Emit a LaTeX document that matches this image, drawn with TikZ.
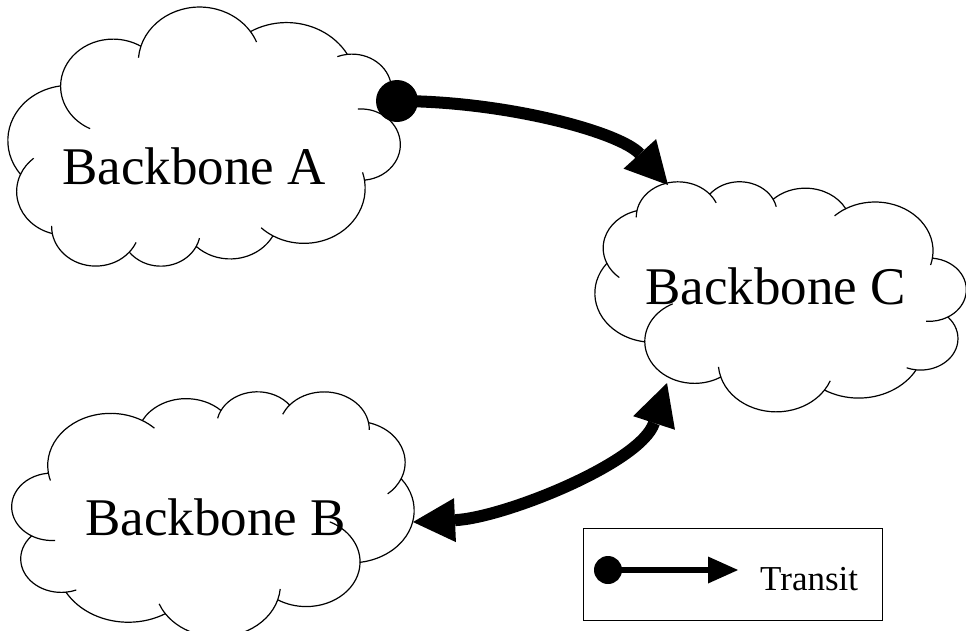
\documentclass[tikz,border=0pt]{standalone}
\usepackage{fontspec}
\setmainfont{Liberation Serif}
\usetikzlibrary{arrows.meta}

\newcommand{\cloudoutline}{%
  \draw[cloudline] (9.028,33.264)
    arc[start angle=172.255, delta angle=128.12, x radius=15.632, y radius=21.273]
    arc[start angle=-152.02, delta angle=106.57, x radius=12.345, y radius=16.822]
    arc[start angle=-153.49, delta angle=116.17, x radius=10.104, y radius=13.762]
    arc[start angle=-139.70, delta angle=129.49, x radius=11.243, y radius=15.266]
    arc[start angle=-74.77, delta angle=97.98, x radius=12.345, y radius=16.836]
    arc[start angle=-37.52, delta angle=119.38, x radius=15.683, y radius=21.343]
    arc[start angle=0.46, delta angle=121.52, x radius=13.391, y radius=18.211]
    arc[start angle=16.85, delta angle=129.40, x radius=15.630, y radius=21.331]
    arc[start angle=58.98, delta angle=91.22, x radius=17.870, y radius=24.405]
    arc[start angle=83.31, delta angle=139.82, x radius=10.093, y radius=13.699]
    arc[start angle=120.34, delta angle=143.77, x radius=10.058, y radius=13.762]
    -- cycle;
  \draw[cloudline] (9.963,47.259) ++(85.54:10.058 and 13.762)
    arc[start angle=85.54, end angle=120.34, x radius=10.058, y radius=13.762];
  \draw[cloudline] (12.248,68.502) ++(68.24:10.093 and 13.699)
    arc[start angle=68.24, end angle=83.31, x radius=10.093, y radius=13.699];
  \draw[cloudline] (51.139,79.039) ++(146.25:15.630 and 21.331)
    arc[start angle=146.25, end angle=158.47, x radius=15.630, y radius=21.331];
  \draw[cloudline] (51.139,79.039) ++(4.74:15.630 and 21.331)
    arc[start angle=4.74, end angle=16.85, x radius=15.630, y radius=21.331];
  \draw[cloudline] (73.190,69.775) ++(-64.03:13.391 and 18.211)
    arc[start angle=-64.03, end angle=0.46, x radius=13.391, y radius=18.211];
  \draw[cloudline] (85.454,29.160) ++(23.21:12.345 and 16.836)
    arc[start angle=23.21, end angle=49.64, x radius=12.345, y radius=16.836];
  \draw[cloudline] (77.632,15.620) ++(-10.21:11.243 and 15.266)
    arc[start angle=-10.21, end angle=0.82, x radius=11.243, y radius=15.266];
  \draw[cloudline] (77.632,15.620) ++(-156.28:11.243 and 15.266)
    arc[start angle=-156.28, end angle=-139.70, x radius=11.243, y radius=15.266];
  \draw[cloudline] (61.023,14.088) ++(-167.72:10.104 and 13.762)
    arc[start angle=-167.72, end angle=-153.49, x radius=10.104, y radius=13.762];
  \draw[cloudline] (24.516,30.398) ++(-59.63:15.632 and 21.273)
    arc[start angle=-59.63, end angle=-45.76, x radius=15.632, y radius=21.273];
  \draw[cloudline] (24.516,30.398) ++(163.19:15.632 and 21.273)
    arc[start angle=163.19, end angle=172.26, x radius=15.632, y radius=21.273];
}

\begin{document}
\begin{tikzpicture}[x=1pt,y=-1pt,
  cloudline/.style={line width=1.2pt, line join=round},
  cloudlabel/.style={anchor=base west, inner sep=0pt, font=\fontsize{53}{60}\selectfont},
  bigline/.style={line width=12pt},
  bighead/.tip={Triangle[length=42pt,width=44pt,line width=0pt]},
  smallhead/.tip={Triangle[length=30pt,width=27pt,line width=0pt]},
  legendbox/.style={draw, line width=1.2pt, anchor=north west, inner sep=0pt,
    minimum width=299pt, minimum height=92pt}]
\useasboundingbox (0,0) rectangle (966,630);

% Cloud A (rotated by 180 degrees)
\begin{scope}[shift={(400,267)}, xscale=-3.92, yscale=-2.59]
  \cloudoutline
\end{scope}
% Cloud B
\begin{scope}[shift={(12,391)}, xscale=4.02, yscale=2.45]
  \cloudoutline
\end{scope}
% Cloud C (mirrored)
\begin{scope}[shift={(966,181)}, xscale=-3.71, yscale=2.30]
  \cloudoutline
\end{scope}

\node[cloudlabel] (A) at (62,184) {Backbone A};
\node[cloudlabel] (B) at (85,535) {Backbone B};
\node[cloudlabel] (C) at (645,304) {Backbone C};

\coordinate (Adot) at (397,101);
\coordinate (Cin) at (668,185);
\coordinate (Cout) at (667,383);
\coordinate (Bin) at (413,522);

\draw[bigline, -bighead] (Adot) .. controls (505,101) and (620,132) .. (Cin);
\fill (Adot) circle[radius=21];
\draw[bigline, bighead-bighead] (Bin) .. controls (503,518) and (641,463) .. (Cout);

\node[legendbox] (legend) at (583,528) {};
\coordinate (Ls) at (608,570);
\coordinate (Le) at (738,570);
\draw[line width=6.5pt, -smallhead] (Ls) -- (Le);
\fill (Ls) circle[radius=14];
\node[anchor=base west, inner sep=0pt, font=\fontsize{35}{40}\selectfont] (transit) at (760,590) {Transit};
\end{tikzpicture}
\end{document}
